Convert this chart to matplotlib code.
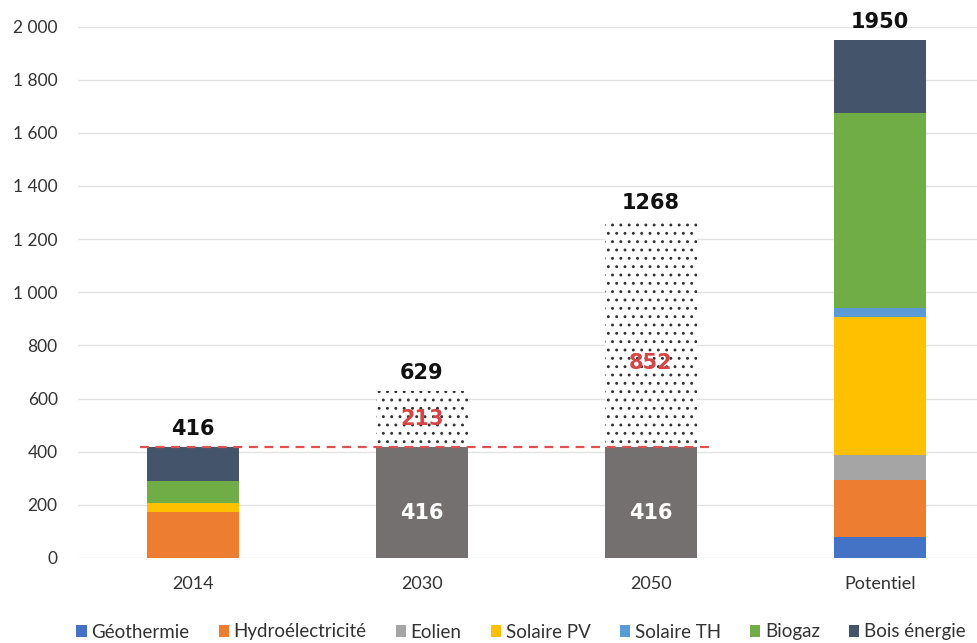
import matplotlib
matplotlib.use("Agg")
import matplotlib.pyplot as plt
from matplotlib.ticker import FuncFormatter
from matplotlib.patches import Patch

plt.rcParams['font.family'] = ['Lato', 'DejaVu Sans']
plt.rcParams['hatch.linewidth'] = 0.9

categories = ['2014', '2030', '2050', 'Potentiel']
sources = ['Géothermie', 'Hydroélectricité', 'Eolien', 'Solaire PV',
           'Solaire TH', 'Biogaz', 'Bois énergie']
colors = ['#4472C4', '#ED7D31', '#A5A5A5', '#FFC000',
          '#5B9BD5', '#70AD47', '#44546A']

mix_2014 = [0, 172, 0, 36, 0, 80, 128]
mix_potentiel = [80, 212, 95, 518, 37, 732, 276]
base_level = 416
extra_2030 = 213
extra_2050 = 852

fig = plt.figure(figsize=(9.78, 6.43), dpi=100)
ax = fig.add_axes([78.5 / 978, 85 / 643, 899.5 / 978, 531.5 / 643])

x = list(range(len(categories)))
width = 0.40
label_font = ['DejaVu Sans']

# stacked mixes for 2014 and the potential
for xi, mix in ((x[0], mix_2014), (x[3], mix_potentiel)):
    bottom = 0
    for val, col in zip(mix, colors):
        if val > 0:
            ax.bar(xi, val, width, bottom=bottom, color=col, zorder=3)
        bottom += val

# 2030 / 2050: current level plus dotted additional effort
for xi, extra in ((x[1], extra_2030), (x[2], extra_2050)):
    ax.bar(xi, base_level, width, color='#747070', zorder=3)
    ax.bar(xi, extra, width, bottom=base_level, facecolor='white',
           edgecolor='#333333', hatch='..', linewidth=0, zorder=3)
    ax.text(xi, base_level * 0.41, f"{base_level}", ha='center', va='center',
            color='white', fontsize=15, fontweight='bold', family=label_font,
            zorder=5)
    frac = 0.5 if extra < 500 else 0.375
    ax.text(xi, base_level + extra * frac, f"{extra}", ha='center', va='center',
            color='#D64545', fontsize=15, fontweight='bold', family=label_font,
            zorder=5)

totals = [sum(mix_2014), base_level + extra_2030,
          base_level + extra_2050, sum(mix_potentiel)]
for xi, tot in zip(x, totals):
    ax.text(xi, tot + 30, f"{tot}", ha='center', va='bottom', color='#111111',
            fontsize=15, fontweight='bold', family=label_font, zorder=5,
            clip_on=False)

# reference line at the 2014 level
ax.plot([-0.23, 2.26], [base_level, base_level], color='#E05050',
        linestyle=(0, (4, 3)), linewidth=1.6, zorder=4)

ax.set_xlim(-0.5, 3.428)
ax.set_ylim(0, 2000)
ax.set_yticks(range(0, 2001, 200))
ax.yaxis.set_major_formatter(FuncFormatter(lambda v, p: f"{int(v):,}".replace(',', ' ')))
ax.set_xticks(x)
ax.set_xticklabels(categories)
ax.tick_params(axis='both', length=0, colors='#333333')
ax.tick_params(axis='y', pad=15, labelsize=12.5)
ax.tick_params(axis='x', pad=13, labelsize=13)
ax.grid(axis='y', color='#E3E3E3', linewidth=1, zorder=0)
for s in ax.spines.values():
    s.set_visible(False)

handles = [Patch(facecolor=c, edgecolor='none') for c in colors]
fig.legend(handles, sources, loc='center', bbox_to_anchor=(521 / 978, 1 - 632 / 643),
           ncol=7, frameon=False, fontsize=13.5, handlelength=0.55, handleheight=0.55,
           handletextpad=0.25, columnspacing=1.55, labelcolor='#333333')

fig.savefig('out.png', dpi=100)
